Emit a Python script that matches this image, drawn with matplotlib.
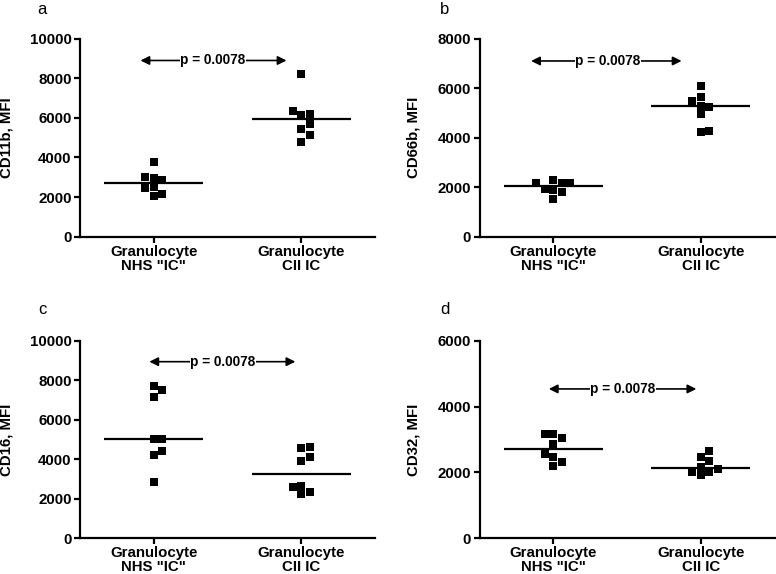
import numpy as np
import matplotlib
matplotlib.use("Agg")
import matplotlib.pyplot as plt

plt.rcParams['font.family'] = ['Liberation Sans', 'DejaVu Sans']

categories = ['Granulocyte\nNHS "IC"', 'Granulocyte\nCII IC']
panel_letters = ['a', 'b', 'c', 'd']
y_labels = ['CD11b, MFI', 'CD66b, MFI', 'CD16, MFI', 'CD32, MFI']
y_max = [10000, 8000, 10000, 6000]
y_step = [2000, 2000, 2000, 2000]
p_text = 'p = 0.0078'

cd11b_nhs = [3756, 2960, 2877, 2995, 2436, 2504, 2047, 2149]
cd11b_cii = [8238, 6345, 6142, 6193, 5700, 5431, 5127, 4787]
cd66b_nhs = [2180, 2152, 1895, 1543, 1786, 2180, 2274, 1935]
cd66b_cii = [6077, 5656, 5481, 5250, 5290, 4953, 4235, 4276]
cd16_nhs = [7716, 7512, 7173, 5009, 5043, 4416, 4196, 2843]
cd16_cii = [4552, 4636, 4112, 3891, 2606, 2217, 2318, 2657]
cd32_nhs = [3168, 3168, 3056, 2853, 2549, 2478, 2325, 2203]
cd32_cii = [2650, 2478, 2335, 2173, 2000, 1919, 2000, 2101]

panels = [(cd11b_nhs, cd11b_cii), (cd66b_nhs, cd66b_cii),
          (cd16_nhs, cd16_cii), (cd32_nhs, cd32_cii)]

# layout (annotation placement, axes fractions)
arrow_y = [8900, 7100, 8950, 4540]
arrow_x = [(-0.09, 0.90), (-0.15, 0.87), (-0.03, 0.96), (-0.03, 0.97)]
text_x = [0.40, 0.37, 0.47, 0.47]
ylabel_x = [-0.225, -0.200, -0.225, -0.200]

W, H = 776, 574
fig = plt.figure(figsize=(W / 100, H / 100), dpi=100)
ax_px = [(80, 38.7, 295, 198), (479.5, 38.7, 295, 198),
         (80, 341, 295, 197), (479.5, 341, 295, 197)]
letter_px = [(42, 10), (445, 10), (42.5, 309), (445, 309)]

FS = 10.8
MS_PX = 8.0


def swarm(vals, px_per_x, px_per_y, msize=MS_PX, step=4.3):
    order = np.argsort(vals)
    placed = []
    offs = np.zeros(len(vals))
    cands = [0]
    for j in range(1, 20):
        cands += [j, -j]
    for i in order:
        y = vals[i] * px_per_y
        x = 0.0
        for c in cands:
            x = c * step
            ok = True
            for (px, py) in placed:
                if abs(px - x) < msize and abs(py - y) < msize:
                    ok = False
                    break
            if ok:
                break
        placed.append((x, y))
        offs[i] = x / px_per_x
    return offs


for idx, (groups, (l, t, w, h)) in enumerate(zip(panels, ax_px)):
    ax = fig.add_axes([l / W, 1 - (t + h) / H, w / W, h / H])
    ax.set_xlim(-0.5, 1.5)
    ax.set_ylim(0, y_max[idx])
    px_per_x = w / 2.0
    px_per_y = h / y_max[idx]
    for gi, vals in enumerate(groups):
        vals = np.array(vals, dtype=float)
        offs = swarm(vals, px_per_x, px_per_y)
        ax.plot(gi + offs, vals, 's', color='black', markersize=5.2, markeredgewidth=0,
                clip_on=False, zorder=3)
        med = np.median(vals)
        ax.plot([gi - 0.335, gi + 0.335], [med, med], color='black', lw=1.6, zorder=2,
                solid_capstyle='butt')
    ax.spines['top'].set_visible(False)
    ax.spines['right'].set_visible(False)
    for s in ['left', 'bottom']:
        ax.spines[s].set_linewidth(1.6)
    ax.set_xticks([0, 1])
    ax.set_xticklabels(categories, fontsize=FS, fontweight='bold', linespacing=1.0)
    ax.set_yticks(np.arange(0, y_max[idx] + 1, y_step[idx]))
    ax.set_yticklabels([str(int(v)) for v in ax.get_yticks()], fontsize=FS, fontweight='bold')
    ax.tick_params(axis='both', length=4, width=1.6, pad=2)
    ax.set_ylabel(y_labels[idx], fontsize=FS, fontweight='bold')
    ax.yaxis.set_label_coords(ylabel_x[idx], 0.5)

    x0, x1 = arrow_x[idx]
    ay = arrow_y[idx]
    ax.annotate('', xy=(x0, ay), xytext=(x1, ay),
                arrowprops=dict(arrowstyle='<|-|>', lw=1.2, color='black',
                                shrinkA=0, shrinkB=0, mutation_scale=13))
    ax.text(text_x[idx], ay, p_text, fontsize=9.8, fontweight='bold', ha='center', va='center',
            zorder=5, bbox=dict(facecolor='white', edgecolor='none', pad=0.3))

    lx, ly = letter_px[idx]
    fig.text(lx / W, 1 - ly / H, panel_letters[idx], fontsize=12, ha='center', va='center')

fig.savefig('out.png', dpi=100)
